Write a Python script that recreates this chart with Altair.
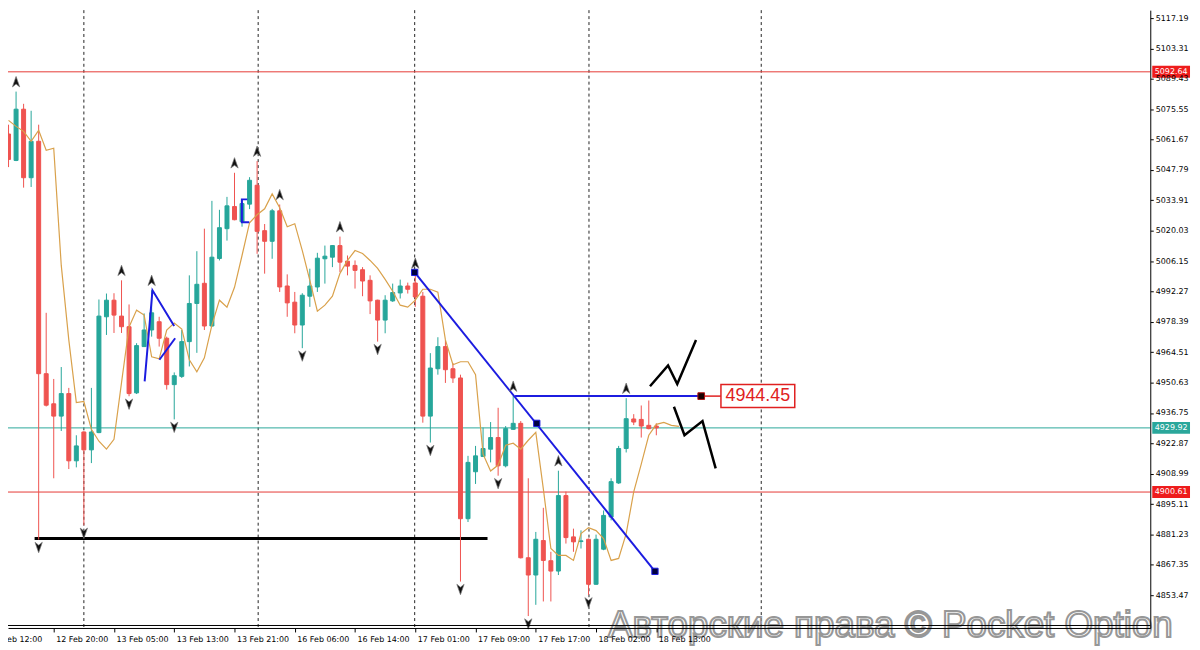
import altair as alt
import pandas as pd

# ---------------- data ----------------
opens = [5064.22, 5052.14, 5075.56, 5044.25, 5060.90, 4954.69, 4940.94, 4935.31, 4945.61, 4914.88,
         4928.05, 4919.88, 4927.78, 4980.70, 4988.28, 4981.02, 4976.16, 4945.93, 4967.08, 4974.66,
         4978.43, 4970.89, 4949.70, 4953.47, 4969.35, 4986.78, 4996.00, 4976.48, 5007.34, 5020.96,
         5031.08, 5024.14, 5032.17, 5040.80, 5020.05, 5015.20, 5029.13, 4994.77, 4987.37, 4976.93,
         4990.10, 4994.32, 5007.21, 5007.93, 5013.24, 5006.12, 5004.17, 5002.21, 4997.36, 4988.28,
         4979.20, 4987.96, 4991.59, 4994.77, 4996.13, 4990.10, 4935.31, 4956.96, 4967.08, 4956.96,
         4952.74, 4888.42, 4909.89, 4916.88, 4920.19, 4925.51, 4912.61, 4929.27, 4932.00, 4870.58,
         4862.69, 4878.44, 4869.22, 4864.50, 4899.00, 4880.11, 4877.98, 4879.03, 4858.46, 4874.49,
         4889.19, 4904.76, 4920.51, 4934.00, 4933.80, 4931.09, 4930.77]
highs = [5068.48, 5083.60, 5078.02, 5074.84, 5068.48, 4982.52, 4952.29, 4957.73, 4948.20, 4926.55,
         4928.37, 4948.20, 4988.60, 4991.32, 4991.46, 4997.36, 4986.33, 4968.63, 4982.24, 4992.82,
         4980.70, 4971.62, 4955.28, 4974.66, 4999.63, 5010.66, 5020.96, 5033.67, 5029.58, 5035.49,
         5046.50, 5034.26, 5044.50, 5051.83, 5023.09, 5030.00, 5032.00, 5000.08, 4992.05, 4991.46,
         5002.67, 5009.93, 5013.24, 5013.50, 5017.33, 5008.71, 5006.44, 5003.39, 4999.63, 4988.50,
         4990.55, 4995.86, 4997.68, 4996.31, 5000.67, 4992.05, 4964.09, 4971.35, 4970.12, 4959.55,
         4954.24, 4917.15, 4921.69, 4930.04, 4932.59, 4939.12, 4930.77, 4944.45, 4933.04, 4906.90,
         4882.38, 4893.41, 4873.31, 4910.35, 4900.81, 4883.88, 4883.11, 4879.35, 4881.16, 4892.19,
         4906.90, 4921.69, 4943.50, 4936.20, 4940.17, 4942.44, 4932.00]
lows = [5049.10, 5051.83, 5039.71, 5040.02, 4878.89, 4939.71, 4906.90, 4928.50, 4911.12, 4911.89,
        4885.38, 4913.84, 4927.50, 4972.39, 4973.30, 4973.30, 4944.39, 4945.40, 4966.95, 4971.62,
        4967.08, 4947.43, 4933.81, 4952.74, 4958.00, 4964.22, 4974.66, 4976.16, 5006.44, 5015.51,
        5024.80, 5021.87, 5029.90, 5009.48, 5000.40, 5007.21, 4992.05, 4980.70, 4973.16, 4966.36,
        4985.24, 4992.05, 4995.86, 5003.39, 5001.13, 4999.63, 4993.59, 4990.10, 4981.93, 4969.35,
        4973.16, 4987.51, 4989.05, 4991.32, 4985.24, 4932.31, 4923.24, 4954.24, 4950.47, 4950.47,
        4859.69, 4886.92, 4904.31, 4916.60, 4914.16, 4908.08, 4911.89, 4929.00, 4870.27, 4843.94,
        4849.07, 4850.61, 4850.61, 4862.69, 4877.07, 4873.31, 4874.80, 4853.61, 4858.20, 4874.03,
        4887.65, 4904.31, 4918.70, 4931.20, 4925.51, 4929.27, 4926.55]
closes = [5052.60, 5075.56, 5044.25, 5060.90, 4954.69, 4940.30, 4935.31, 4945.61, 4914.88, 4921.69,
          4919.88, 4928.05, 4981.02, 4988.28, 4981.47, 4976.16, 4945.61, 4967.54, 4974.66, 4982.52,
          4970.89, 4949.70, 4953.78, 4969.35, 4986.78, 4995.54, 4976.48, 5007.93, 5021.41, 5031.40,
          5025.05, 5032.44, 5043.07, 5019.74, 5015.20, 5029.13, 4994.32, 4987.05, 4976.93, 4990.55,
          4994.77, 5007.48, 5008.39, 5013.24, 5005.66, 5003.85, 5001.90, 4997.04, 4987.96, 4979.20,
          4988.28, 4991.78, 4994.77, 4993.27, 4989.78, 4935.31, 4957.28, 4967.08, 4956.51, 4952.74,
          4888.42, 4914.16, 4917.15, 4920.51, 4925.51, 4912.61, 4929.59, 4932.00, 4870.58, 4862.69,
          4879.03, 4869.36, 4864.50, 4899.00, 4879.80, 4877.85, 4878.30, 4858.46, 4879.03, 4889.92,
          4905.35, 4920.51, 4934.13, 4932.60, 4930.77, 4929.59, 4929.92]
ma_values = [5070.44, 5067.71, 5065.44, 5060.90, 5065.90, 5056.82, 5057.73, 5004.17, 4970.12, 4941.53,
             4941.98, 4929.27, 4923.83, 4920.19, 4924.73, 4950.61, 4976.02, 4983.74, 4981.47, 4962.41,
             4961.50, 4974.66, 4977.84, 4975.12, 4961.05, 4955.60, 4961.95, 4976.93, 4988.28, 4985.10,
             4994.18, 5008.70, 5023.68, 5027.32, 5030.04, 5036.85, 5030.49, 5021.87, 5023.23, 5010.97,
             4997.36, 4983.29, 4986.01, 4990.10, 5000.54, 5006.44, 5010.97, 5009.61, 5006.44, 5002.80,
             4997.81, 4992.37, 4986.01, 4985.10, 4988.28, 4993.27, 4993.27, 4991.91, 4970.12, 4958.78,
             4960.14, 4960.14, 4954.24, 4917.93, 4910.21, 4912.93, 4922.01, 4922.92, 4920.19, 4924.28,
             4927.91, 4902.04, 4874.80, 4871.63, 4871.63, 4869.36, 4881.61, 4884.34, 4882.98, 4879.34,
             4869.36, 4870.27, 4881.61, 4900.68, 4913.39, 4926.55, 4931.54, 4932.45, 4931.09, 4930.63]

time_labels = ["12 Feb 12:00", "12 Feb 20:00", "13 Feb 05:00", "13 Feb 13:00", "13 Feb 21:00",
               "16 Feb 06:00", "16 Feb 14:00", "17 Feb 01:00", "17 Feb 09:00", "17 Feb 17:00",
               "18 Feb 02:00", "18 Feb 13:00"]
time_ticks = [-2, 6, 14, 22, 30, 38, 46, 54, 62, 70, 78, 86]
price_ticks = [4853.47, 4867.35, 4881.23, 4895.11, 4908.99, 4922.87, 4936.75, 4950.63, 4964.51,
               4978.39, 4992.27, 5006.15, 5020.03, 5033.91, 5047.79, 5061.67, 5075.55, 5089.43,
               5103.31, 5117.19]
day_separators = [10, 33.14, 53.92, 77.06, 99.93]
up_fractals = [1, 15, 19, 30, 33, 36, 44, 54, 67, 73, 82]
down_fractals = [4, 10, 16, 22, 39, 49, 56, 60, 65, 69, 77]
red_levels = [5092.64, 4900.61]
last_price = 4929.92
support_level = 4879.34
support_span = [3.46, 63.59]

blue_seg = ["trend", "trend", "hz", "hz", "a", "a", "a", "b", "b", "br", "br", "br", "br"]
blue_i = [53.92, 85.82, 67.25, 91.96, 18.07, 19.11, 21.99, 20.03, 22.12, 31.70, 30.98, 30.98, 31.96]
blue_p = [5000.99, 4864.37, 4944.45, 4944.45, 4951.20, 4992.82, 4976.48, 4961.05, 4970.89,
          5034.35, 5034.35, 5023.91, 5023.91]
anchor_i = [53.92, 70.13, 85.82]
anchor_p = [5000.99, 4932.00, 4864.37]

zig_seg = ["u", "u", "u", "u", "d", "d", "d", "d"]
zig_i = [85.16, 87.56, 88.78, 91.27, 88.34, 89.74, 92.13, 93.88]
zig_p = [4948.93, 4958.46, 4950.01, 4970.12, 4939.58, 4926.55, 4933.04, 4911.43]

level_label = 4944.45
box_i = [94.58, 104.38]
box_p = [4939.26, 4949.70]

TEAL = "#26a69a"
RED = "#ef5350"
BLUE = "#1c1ce0"

# ---------------- frames ----------------
n = len(opens)
candles = pd.DataFrame({"i": list(range(n)), "open": opens, "high": highs,
                        "low": lows, "close": closes})
candles["dir"] = ["up" if c >= o else "down" for o, c in zip(opens, closes)]
ma_df = pd.DataFrame({"i": list(range(len(ma_values))), "p": ma_values})
up_df = pd.DataFrame({"i": up_fractals, "p": [highs[k] for k in up_fractals]})
dn_df = pd.DataFrame({"i": down_fractals, "p": [lows[k] for k in down_fractals]})
blue_df = pd.DataFrame({"seg": blue_seg, "k": list(range(len(blue_i))), "i": blue_i, "p": blue_p})
anchor_df = pd.DataFrame({"i": anchor_i, "p": anchor_p})
zig_df = pd.DataFrame({"seg": zig_seg, "k": list(range(len(zig_i))), "i": zig_i, "p": zig_p})

label_expr = "[" + ",".join("'%s'" % s for s in time_labels) + "][round((datum.value + 2) / 8)]"

xs = alt.Scale(domain=[0.588, 150.92], nice=False, zero=False)
ys = alt.Scale(domain=[4838.49, 5120.82], nice=False, zero=False)
xaxis = alt.Axis(values=time_ticks, labelExpr=label_expr, orient="bottom", grid=False,
                 domainColor="#000", domainWidth=1, tickColor="#000", tickSize=4,
                 labelAlign="left", labelBaseline="top", labelPadding=4, labelOffset=2,
                 labelFont="DejaVu Sans", labelFontSize=8, labelColor="#000",
                 labelOverlap=False, labelBound=False, labelFlush=False, title=None, zindex=1)
yaxis = alt.Axis(values=price_ticks, format=".2f", orient="right", grid=False,
                 domainColor="#000", domainWidth=1, tickColor="#000", tickSize=3,
                 labelPadding=2, labelFont="DejaVu Sans", labelFontSize=8, labelColor="#000",
                 labelOverlap=False, labelBound=False, labelFlush=False, title=None, zindex=1)


def X(f="i"):
    return alt.X(f + ":Q", scale=xs, axis=xaxis)


def Y(f="p"):
    return alt.Y(f + ":Q", scale=ys, axis=yaxis)


cscale = alt.Scale(domain=["up", "down"], range=[TEAL, RED])

seps = alt.Chart(pd.DataFrame({"i": day_separators})).mark_rule(
    strokeDash=[3, 3], color="#222", strokeWidth=1).encode(x=X())
red_lines = alt.Chart(pd.DataFrame({"p": red_levels})).mark_rule(
    color="#e53935", strokeWidth=1).encode(y=Y())
teal_line = alt.Chart(pd.DataFrame({"p": [last_price]})).mark_rule(
    color="#2aa79b", strokeWidth=1).encode(y=Y())
support = alt.Chart(pd.DataFrame({"i": [support_span[0]], "i2": [support_span[1]],
                                  "p": [support_level]})).mark_rule(
    color="#000", strokeWidth=3).encode(x=X(), x2="i2:Q", y=Y())
frame_line = alt.Chart(pd.DataFrame({"k": [0]})).mark_rule(color="#000", strokeWidth=1).encode(
    x=alt.value(0), x2=alt.value(1150), y=alt.value(619.5))

wicks = alt.Chart(candles).mark_rule(strokeWidth=1).encode(
    x=X(), y=Y("low"), y2="high:Q", stroke=alt.Stroke("dir:N", scale=cscale, legend=None))
bodies = alt.Chart(candles).mark_bar(size=4, strokeWidth=1).encode(
    x=X(), y=Y("open"), y2="close:Q",
    fill=alt.Fill("dir:N", scale=cscale, legend=None),
    stroke=alt.Stroke("dir:N", scale=cscale, legend=None))

ma = alt.Chart(ma_df).mark_line(color="#d9a14b", strokeWidth=1.2).encode(x=X(), y=Y())

blue = alt.Chart(blue_df).mark_line(color=BLUE, strokeWidth=2).encode(
    x=X(), y=Y(), detail="seg:N", order="k:Q")
anchors = alt.Chart(anchor_df).mark_point(shape="square", size=40, filled=True, fill="#000040",
                                          stroke=BLUE, strokeWidth=1, opacity=1).encode(x=X(), y=Y())

UP = "M0,-1L0.7,1L0,0.45L-0.7,1Z"
DN = "M0,1L0.7,-1L0,-0.45L-0.7,-1Z"
ups = alt.Chart(up_df).mark_point(shape=UP, size=110, filled=True, fill="#111", stroke="#777",
                                  strokeWidth=0.7, opacity=1, yOffset=-10).encode(x=X(), y=Y())
dns = alt.Chart(dn_df).mark_point(shape=DN, size=110, filled=True, fill="#111", stroke="#777",
                                  strokeWidth=0.7, opacity=1, yOffset=8).encode(x=X(), y=Y())

zig = alt.Chart(zig_df).mark_line(color="#000", strokeWidth=2.5).encode(
    x=X(), y=Y(), detail="seg:N", order="k:Q")

connector = alt.Chart(pd.DataFrame({"i": [blue_i[3]], "i2": [box_i[0]], "p": [level_label]})).mark_rule(
    color="#e02020", strokeWidth=1.5).encode(x=X(), x2="i2:Q", y=Y())
end_sq = alt.Chart(pd.DataFrame({"i": [blue_i[3]], "p": [level_label]})).mark_point(
    shape="square", size=45, filled=True, fill="#1a0000", stroke="#b01010", strokeWidth=1,
    opacity=1).encode(x=X(), y=Y())
box = alt.Chart(pd.DataFrame({"i": [box_i[0]], "i2": [box_i[1]], "p": [box_p[0]], "p2": [box_p[1]]})).mark_rect(
    fill="white", stroke="#e02020", strokeWidth=1.5).encode(x=X(), x2="i2:Q", y=Y(), y2="p2:Q")
box_text = alt.Chart(pd.DataFrame({"i": [(box_i[0] + box_i[1]) / 2], "p": [level_label]})).mark_text(
    font="Liberation Sans", fontSize=18, color="#e02020", align="center", baseline="middle").encode(
    x=X(), y=Y(), text=alt.Text("p:Q", format=".2f"))

RECT = "M-1,-0.316L1,-0.316L1,0.316L-1,0.316Z"
red_tags = alt.Chart(pd.DataFrame({"p": red_levels})).mark_point(
    shape=RECT, size=1444, filled=True, fill="#ee1c1c", strokeWidth=0, opacity=1).encode(
    x=alt.value(1171), y=Y())
teal_tag = alt.Chart(pd.DataFrame({"p": [last_price]})).mark_point(
    shape=RECT, size=1444, filled=True, fill="#2aa79b", strokeWidth=0, opacity=1).encode(
    x=alt.value(1171), y=Y())
tag_text = alt.Chart(pd.DataFrame({"p": red_levels + [last_price]})).mark_text(
    font="DejaVu Sans", fontSize=8, color="white", align="center", baseline="middle").encode(
    x=alt.value(1171), y=Y(), text=alt.Text("p:Q", format=".2f"))

# first time label sits left of the visible area and is cut off at the chart edge
first_label = alt.Chart(pd.DataFrame({"t": [time_labels[0]]})).mark_text(
    font="DejaVu Sans", fontSize=8, color="#000", align="left", baseline="top").encode(
    x=alt.value(-17.8), y=alt.value(630), text="t:N")

watermark = alt.Chart(pd.DataFrame({"t": ["Авторские права © Pocket Option"]})).mark_text(
    font="Liberation Sans", fontSize=37, fill="white", stroke="#8c8c8c", strokeWidth=2,
    align="left", baseline="alphabetic", opacity=0.9).encode(
    x=alt.value(604), y=alt.value(631), text="t:N")

chart = alt.layer(
    seps, red_lines, teal_line, support, wicks, bodies, ma, blue, anchors, ups, dns, zig,
    connector, end_sq, box, box_text, red_tags, teal_tag, tag_text, first_label, watermark,
    frame_line
).properties(
    width=1150, height=622,
    autosize=alt.AutoSizeParams(type="none"),
    padding={"left": 0, "top": 0, "right": 42, "bottom": 20},
    background="white",
).configure_view(stroke=None)

chart.save("out.html", embed_options={"renderer": "svg", "actions": False})
